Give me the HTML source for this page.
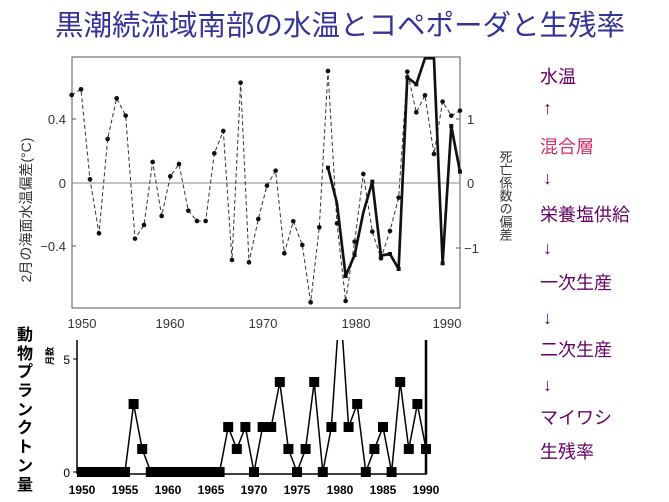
<!DOCTYPE html>
<html><head><meta charset="utf-8"><style>
html,body{margin:0;padding:0;background:#fff;}
svg{display:block;font-family:"Liberation Sans","Noto Sans CJK JP",sans-serif;}
</style></head><body>
<svg width="669" height="502" viewBox="0 0 669 502" xmlns="http://www.w3.org/2000/svg">
<text x="340" y="35" text-anchor="middle" font-size="28.5" fill="#333399" font-family="'Liberation Sans','Noto Sans CJK JP',sans-serif">黒潮続流域南部の水温とコペポーダと生残率</text>

<!-- top chart frame -->
<rect x="72" y="57" width="388" height="251" fill="none" stroke="#555" stroke-width="1"/>
<line x1="72" y1="183" x2="460" y2="183" stroke="#888" stroke-width="1"/>
<g stroke="#555" stroke-width="1">
<line x1="72" y1="119" x2="76" y2="119"/><line x1="72" y1="246" x2="76" y2="246"/>
<line x1="456" y1="119" x2="460" y2="119"/><line x1="456" y1="248" x2="460" y2="248"/>
</g>
<g font-size="13" fill="#333" text-anchor="end">
<text x="66" y="124">0.4</text><text x="66" y="188">0</text><text x="66" y="251">−0.4</text>
</g>
<g font-size="13" fill="#333">
<text x="467" y="124">1</text><text x="467" y="188">0</text><text x="464" y="253">−1</text>
</g>
<text transform="translate(31,210) rotate(-90)" text-anchor="middle" font-size="14" fill="#333">2月の海面水温偏差(°C)</text>
<text x="505" y="150" font-size="13" fill="#333" style="writing-mode:vertical-rl" >死亡係数の偏差</text>

<g transform="translate(30,50) scale(0.3333)">
<polyline fill="none" stroke="#333" stroke-width="3" stroke-dasharray="12,8" points="125,135 153,118 180,388 207,550 233,267 260,145 287,197 315,566 342,525 368,336 395,498 421,379 447,342 475,482 501,513 527,513 553,310 580,243 606,630 632,98 657,637 685,507 711,407 737,362 763,610 790,514 817,585 842,757 868,532 894,63 921,520 947,753 974,575 1000,372 1027,545 1053,625 1080,543 1106,443 1132,65 1159,187 1185,136 1212,312 1238,155 1264,197 1290,182"/>
<g fill="#111">
<circle cx="125" cy="135" r="7"/><circle cx="153" cy="118" r="7"/><circle cx="180" cy="388" r="7"/><circle cx="207" cy="550" r="7"/><circle cx="233" cy="267" r="7"/><circle cx="260" cy="145" r="7"/><circle cx="287" cy="197" r="7"/><circle cx="315" cy="566" r="7"/><circle cx="342" cy="525" r="7"/><circle cx="368" cy="336" r="7"/><circle cx="395" cy="498" r="7"/><circle cx="421" cy="379" r="7"/><circle cx="447" cy="342" r="7"/><circle cx="475" cy="482" r="7"/><circle cx="501" cy="513" r="7"/><circle cx="527" cy="513" r="7"/><circle cx="553" cy="310" r="7"/><circle cx="580" cy="243" r="7"/><circle cx="606" cy="630" r="7"/><circle cx="632" cy="98" r="7"/><circle cx="657" cy="637" r="7"/><circle cx="685" cy="507" r="7"/><circle cx="711" cy="407" r="7"/><circle cx="737" cy="362" r="7"/><circle cx="763" cy="610" r="7"/><circle cx="790" cy="514" r="7"/><circle cx="817" cy="585" r="7"/><circle cx="842" cy="757" r="7"/><circle cx="868" cy="532" r="7"/><circle cx="894" cy="63" r="7"/><circle cx="921" cy="520" r="7"/><circle cx="947" cy="753" r="7"/><circle cx="974" cy="575" r="7"/><circle cx="1000" cy="372" r="7"/><circle cx="1027" cy="545" r="7"/><circle cx="1053" cy="625" r="7"/><circle cx="1080" cy="543" r="7"/><circle cx="1106" cy="443" r="7"/><circle cx="1132" cy="65" r="7"/><circle cx="1159" cy="187" r="7"/><circle cx="1185" cy="136" r="7"/><circle cx="1212" cy="312" r="7"/><circle cx="1238" cy="155" r="7"/><circle cx="1264" cy="197" r="7"/><circle cx="1290" cy="182" r="7"/>
</g>
<polyline fill="none" stroke="#111" stroke-width="8" stroke-linejoin="round" points="894,353 921,460 947,678 974,615 1000,488 1027,395 1053,617 1080,612 1106,657 1132,82 1159,103 1185,25 1212,25 1238,640 1264,228 1290,365"/>
<g fill="#111">
<rect x="888" y="347" width="12" height="12"/><rect x="941" y="672" width="12" height="12"/><rect x="968" y="609" width="12" height="12"/><rect x="1021" y="389" width="12" height="12"/><rect x="1047" y="611" width="12" height="12"/><rect x="1074" y="606" width="12" height="12"/><rect x="1100" y="651" width="12" height="12"/><rect x="1126" y="76" width="12" height="12"/><rect x="1153" y="97" width="12" height="12"/><rect x="1232" y="634" width="12" height="12"/><rect x="1258" y="222" width="12" height="12"/><rect x="1284" y="359" width="12" height="12"/>
</g>
</g>

<!-- top year labels -->
<g font-size="13" fill="#333" text-anchor="middle">
<text x="82" y="328">1950</text><text x="170" y="328">1960</text><text x="263" y="328">1970</text><text x="356" y="328">1980</text><text x="447" y="328">1990</text>
</g>

<!-- bottom chart -->
<g font-size="16" font-weight="bold" fill="#000" text-anchor="middle">
<text x="25" y="340">動</text><text x="25" y="359">物</text><text x="25" y="377">プ</text><text x="25" y="396">ラ</text><text x="25" y="415">ン</text><text x="25" y="433">ク</text><text x="25" y="452">ト</text><text x="25" y="471">ン</text><text x="25" y="490">量</text>
</g>
<text transform="translate(53,356) rotate(-90)" text-anchor="middle" font-size="9" font-weight="bold">月数</text>
<line x1="77" y1="340" x2="77" y2="474" stroke="#000" stroke-width="1.5"/>
<line x1="77" y1="474" x2="427" y2="474" stroke="#000" stroke-width="1.5"/>
<line x1="426" y1="340" x2="426" y2="474" stroke="#000" stroke-width="2.5"/>
<line x1="73" y1="359" x2="77" y2="359" stroke="#000"/><line x1="73" y1="472" x2="77" y2="472" stroke="#000"/>
<text x="70" y="364" font-size="12" text-anchor="end">5</text>
<text x="70" y="477" font-size="12" text-anchor="end">0</text>
<g font-size="12" text-anchor="middle" font-weight="bold">
<text x="82" y="494">1950</text><text x="125" y="494">1955</text><text x="168" y="494">1960</text><text x="211" y="494">1965</text><text x="254" y="494">1970</text><text x="297" y="494">1975</text><text x="340" y="494">1980</text><text x="383" y="494">1985</text><text x="426" y="494">1990</text>
</g>
<defs><clipPath id="c"><rect x="70" y="340" width="370" height="150"/></clipPath></defs>
<g clip-path="url(#c)">
<polyline fill="none" stroke="#000" stroke-width="1.5" points="82,472 90.6,472 99.2,472 107.8,472 116.4,472 125,472 133.6,404 142.2,449 150.8,472 159.4,472 168,472 176.6,472 185.2,472 193.8,472 202.4,472 211,472 219.6,472 228.2,427 236.8,449 245.4,427 254,472 262.6,427 271.2,427 279.8,382 288.4,449 297,472 305.6,449 314.2,382 322.8,472 331.4,427 340,300 348.6,427 357.2,404 365.8,472 374.4,449 383,427 391.6,472 400.2,382 408.8,449 417.4,404 426,449"/>
<g fill="#000">
<rect x="77" y="467" width="10" height="10"/><rect x="85.6" y="467" width="10" height="10"/><rect x="94.2" y="467" width="10" height="10"/><rect x="102.8" y="467" width="10" height="10"/><rect x="111.4" y="467" width="10" height="10"/><rect x="120" y="467" width="10" height="10"/><rect x="128.6" y="399" width="10" height="10"/><rect x="137.2" y="444" width="10" height="10"/><rect x="145.8" y="467" width="10" height="10"/><rect x="154.4" y="467" width="10" height="10"/><rect x="163" y="467" width="10" height="10"/><rect x="171.6" y="467" width="10" height="10"/><rect x="180.2" y="467" width="10" height="10"/><rect x="188.8" y="467" width="10" height="10"/><rect x="197.4" y="467" width="10" height="10"/><rect x="206" y="467" width="10" height="10"/><rect x="214.6" y="467" width="10" height="10"/><rect x="223.2" y="422" width="10" height="10"/><rect x="231.8" y="444" width="10" height="10"/><rect x="240.4" y="422" width="10" height="10"/><rect x="249" y="467" width="10" height="10"/><rect x="257.6" y="422" width="10" height="10"/><rect x="266.2" y="422" width="10" height="10"/><rect x="274.8" y="377" width="10" height="10"/><rect x="283.4" y="444" width="10" height="10"/><rect x="292" y="467" width="10" height="10"/><rect x="300.6" y="444" width="10" height="10"/><rect x="309.2" y="377" width="10" height="10"/><rect x="317.8" y="467" width="10" height="10"/><rect x="326.4" y="422" width="10" height="10"/><rect x="343.6" y="422" width="10" height="10"/><rect x="352.2" y="399" width="10" height="10"/><rect x="360.8" y="467" width="10" height="10"/><rect x="369.4" y="444" width="10" height="10"/><rect x="378" y="422" width="10" height="10"/><rect x="386.6" y="467" width="10" height="10"/><rect x="395.2" y="377" width="10" height="10"/><rect x="403.8" y="444" width="10" height="10"/><rect x="412.4" y="399" width="10" height="10"/><rect x="421" y="444" width="10" height="10"/>
</g>
</g>

<!-- right column -->
<g font-size="18" fill="#660066">
<text x="540" y="83">水温</text>
<text x="543" y="114">↑</text>
<text x="540" y="153" fill="#cc3366">混合層</text>
<text x="543" y="184">↓</text>
<text x="540" y="221">栄養塩供給</text>
<text x="543" y="254">↓</text>
<text x="540" y="289">一次生産</text>
<text x="543" y="324">↓</text>
<text x="540" y="356">二次生産</text>
<text x="543" y="391">↓</text>
<text x="540" y="424">マイワシ</text>
<text x="540" y="458">生残率</text>
</g>
</svg>
</body></html>
